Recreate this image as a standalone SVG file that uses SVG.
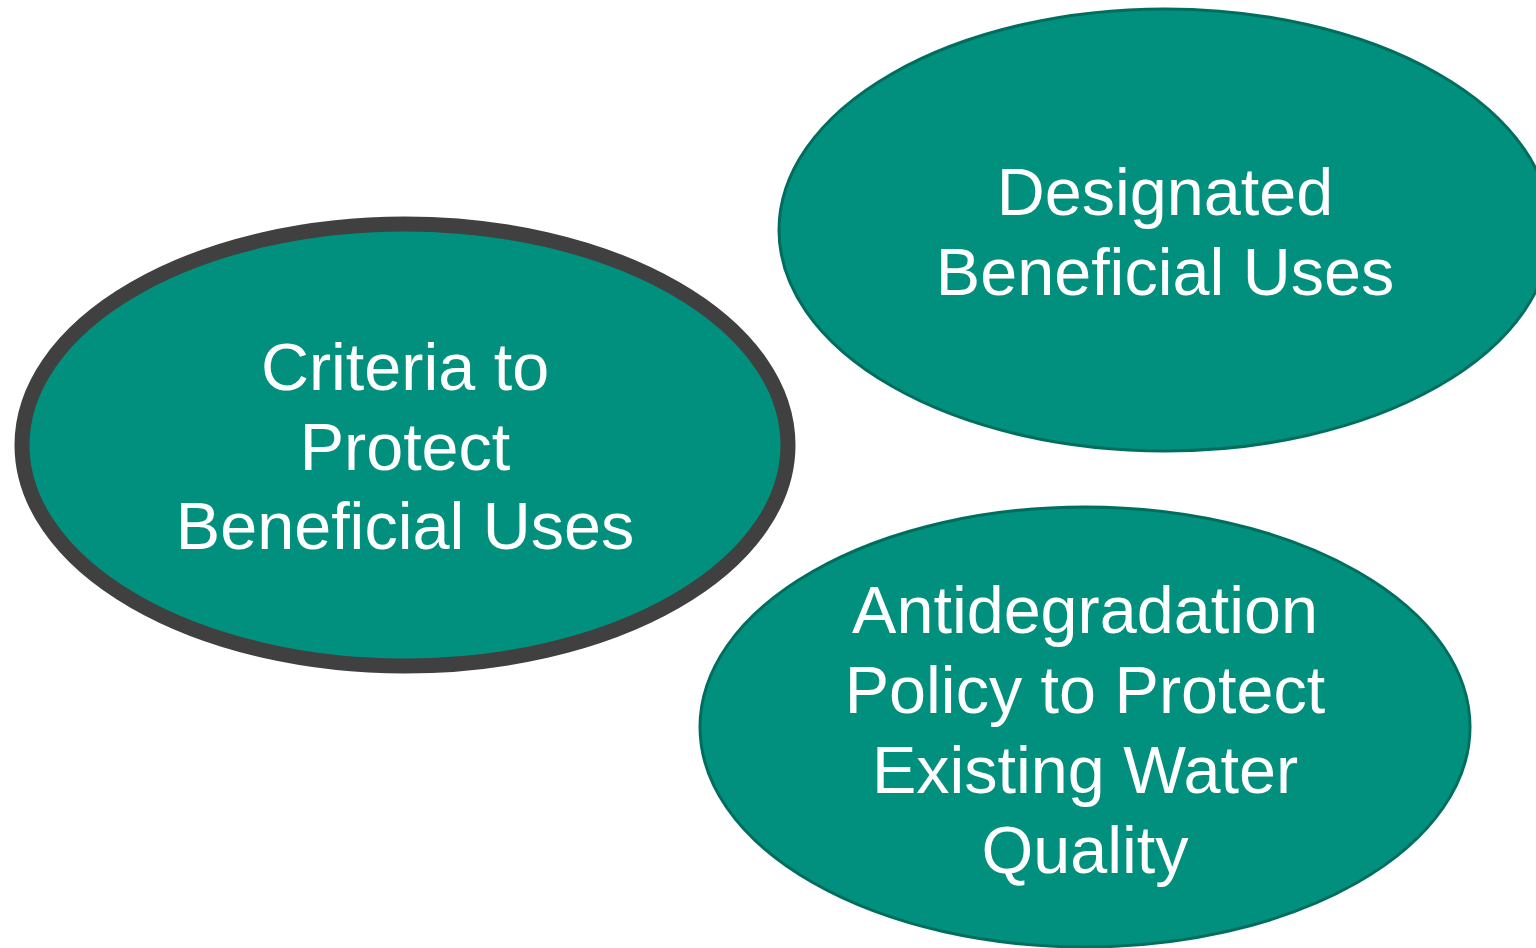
<svg xmlns="http://www.w3.org/2000/svg" width="1536" height="948" viewBox="0 0 1536 948">
<style>
.node{fill:#00907D;stroke:#006E5E;stroke-width:3}
.sel{stroke:#404040;stroke-width:15}
.lbl{font-family:"Liberation Sans",Arial,sans-serif;font-size:66.5px;fill:#ffffff;text-anchor:middle}
</style>
<rect width="1536" height="948" fill="#ffffff"/>
<g id="connectors"/>
<g id="designated">
<ellipse class="node" cx="1165" cy="230" rx="386" ry="221"/>
<text class="lbl" x="1165" y="215">Designated</text>
<text class="lbl" x="1165" y="295">Beneficial Uses</text>
</g>
<g id="antidegradation">
<ellipse class="node" cx="1085" cy="727" rx="385" ry="220"/>
<text class="lbl" x="1085" y="633">Antidegradation</text>
<text class="lbl" x="1085" y="713">Policy to Protect</text>
<text class="lbl" x="1085" y="793">Existing Water</text>
<text class="lbl" x="1085" y="873">Quality</text>
</g>
<g id="criteria">
<ellipse class="node sel" cx="405" cy="445" rx="383" ry="221"/>
<text class="lbl" x="405" y="390">Criteria to</text>
<text class="lbl" x="405" y="470">Protect</text>
<text class="lbl" x="405" y="549">Beneficial Uses</text>
</g>
</svg>
